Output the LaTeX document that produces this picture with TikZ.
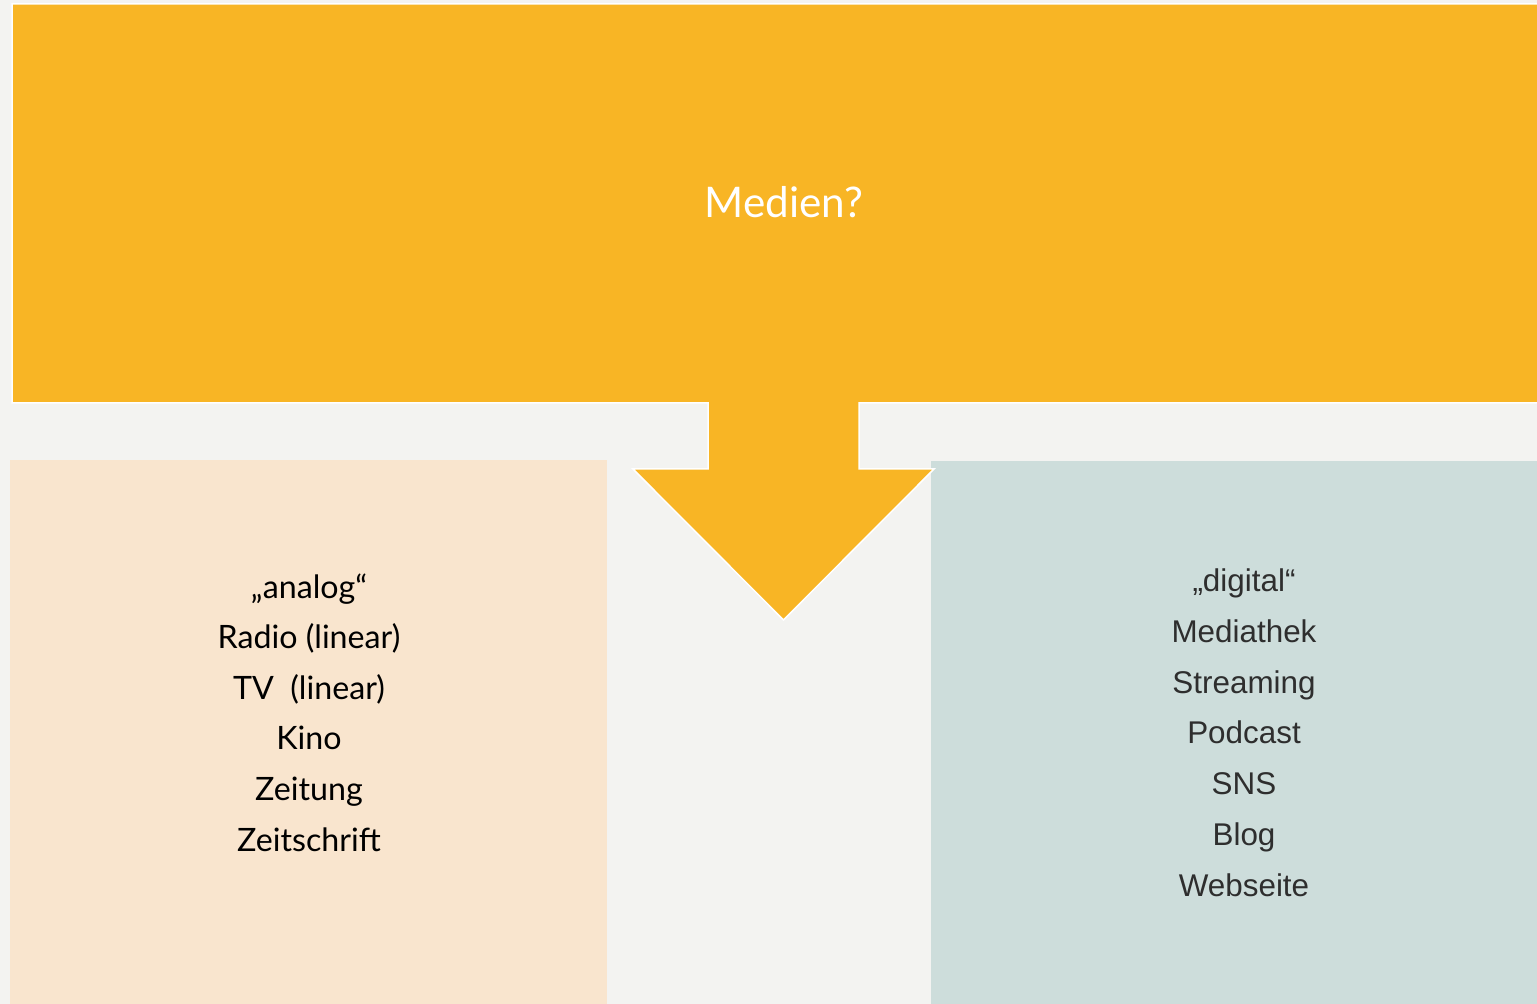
\documentclass[tikz,border=0pt]{standalone}
\usepackage{fontspec}
\setmainfont{Lato}
\newfontfamily\arialfont{Liberation Sans}
\definecolor{bgcol}{HTML}{F3F3F1}
\definecolor{orangecol}{HTML}{F8B525}
\definecolor{analogcol}{HTML}{F9E5CE}
\definecolor{digitalcol}{HTML}{CDDDDB}
\definecolor{graytext}{HTML}{2E2E2E}
\begin{document}
\begin{tikzpicture}[x=0.5pt,y=-0.5pt,
  panel/.style={rectangle,draw=none,inner sep=0pt,outer sep=0pt},
  analogline/.style={anchor=base,inner sep=0pt,font=\fontsize{16.1}{19}\selectfont,text=black},
  digitalline/.style={anchor=base,inner sep=0pt,font=\arialfont\fontsize{15.7}{18}\selectfont,text=graytext},
  titletext/.style={anchor=base,inner sep=0pt,font=\fontsize{21.1}{24}\selectfont,text=white}]
\useasboundingbox (0,0) rectangle (1537,1004);
\fill[bgcol] (0,0) rectangle (1537,1004);
% panels
\node[panel,fill=analogcol,minimum width=298.5pt,minimum height=272pt] (analogbox) at (308.5,732) {};
\node[panel,fill=digitalcol,minimum width=304.5pt,minimum height=272pt] (digitalbox) at (1235.5,733) {};
% big arrow shape
\filldraw[fill=orangecol,draw=white,line width=0.75pt,line join=miter]
  (12,4) -- (1545,4) -- (1545,403) -- (859,403) -- (859,469) -- (934,469)
  -- (783.5,620) -- (633,469) -- (708,469) -- (708,403) -- (12,403) -- cycle;
\node[titletext] (title) at (784,218) {Medien?};
% analog list
\node[analogline] (a0) at (309,599) {„analog“};
\node[analogline] (a1) at (309,649) {Radio (linear)};
\node[analogline] (a2) at (309,700) {TV\ \ (linear)};
\node[analogline] (a3) at (309,750) {Kino};
\node[analogline] (a4) at (309,801) {Zeitung};
\node[analogline] (a5) at (309,852) {Zeitschrift};
% digital list
\node[digitalline] (d0) at (1244,592) {„digital“};
\node[digitalline] (d1) at (1244,643) {Mediathek};
\node[digitalline] (d2) at (1244,694) {Streaming};
\node[digitalline] (d3) at (1244,744) {Podcast};
\node[digitalline] (d4) at (1244,795) {SNS};
\node[digitalline] (d5) at (1244,846) {Blog};
\node[digitalline] (d6) at (1244,896) {Webseite};
\end{tikzpicture}
\end{document}
